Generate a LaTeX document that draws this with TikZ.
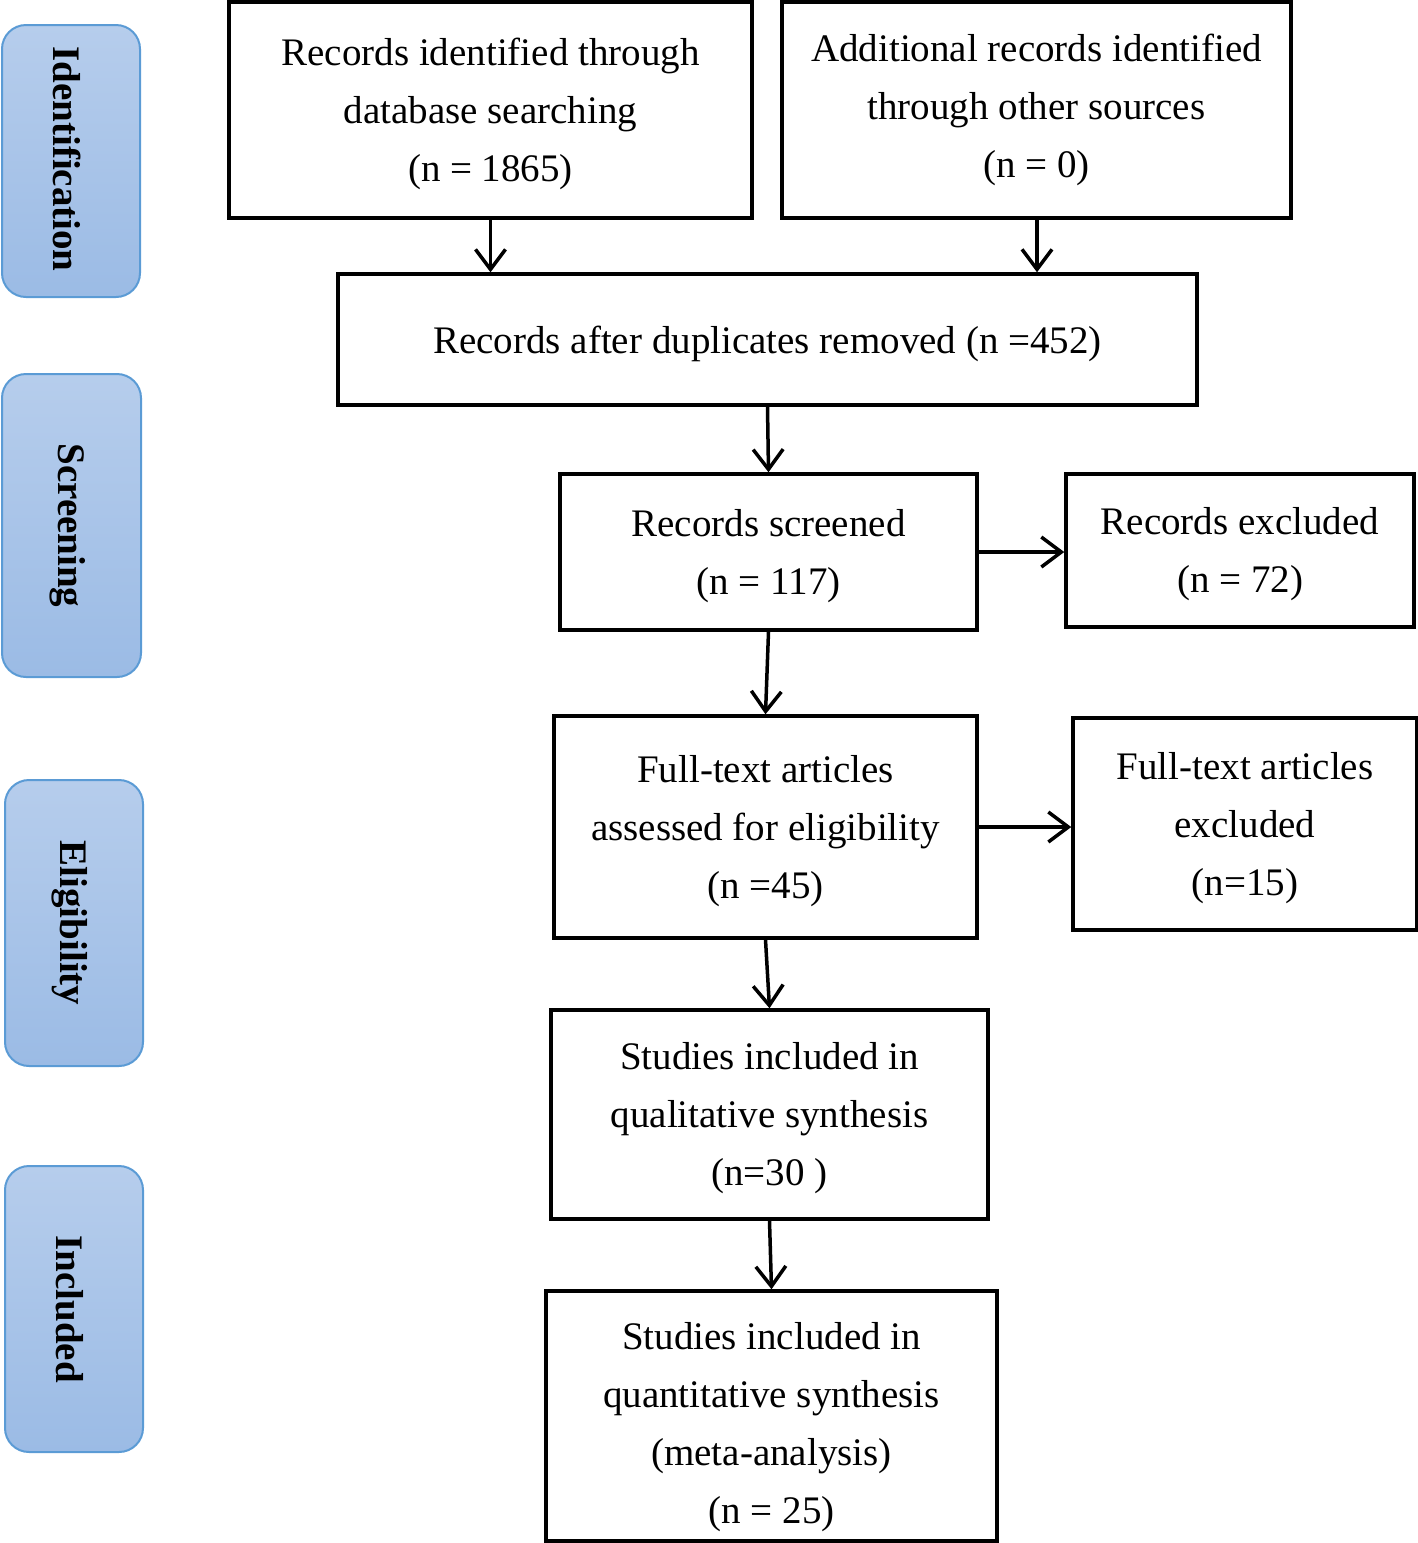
\documentclass[tikz,border=0pt]{standalone}
\usepackage{fontspec}
\setmainfont{Liberation Serif}
\usetikzlibrary{arrows.meta}
\definecolor{sideborder}{HTML}{5B9BD5}
\definecolor{sidetop}{HTML}{B6CDEC}
\definecolor{sidebot}{HTML}{9BBBE5}
\begin{document}
\begin{tikzpicture}[x=1pt,y=-1pt,
 box/.style={draw=black,line width=3.5pt,inner sep=0pt},
 btext/.style={align=center,inner sep=0pt,font=\fontsize{39}{58}\selectfont,yshift=-4pt},
 side/.style={draw=sideborder,line width=2pt,rounded corners=24pt,top color=sidetop,bottom color=sidebot,inner sep=0pt},
 sidetext/.style={rotate=-90,font=\bfseries\fontsize{39}{39}\selectfont,inner sep=0pt},
 arr/.style={line width=3.5pt,-{Straight Barb[length=20pt,width=30pt,line width=3.5pt]}}]
\useasboundingbox (0,0) rectangle (1418,1543);
% side boxes
\node[side,minimum width=138pt,minimum height=272pt] (s1) at (71,161) {};
\node[sidetext] (t1) at ([xshift=-4pt,yshift=2pt]s1) {Identification};
\node[side,minimum width=139pt,minimum height=303pt] (s2) at (71.5,525.5) {};
\node[sidetext] (t2) at ([xshift=-4pt]s2) {Screening};
\node[side,minimum width=138pt,minimum height=286pt] (s3) at (74,923) {};
\node[sidetext] (t3) at ([xshift=-4pt]s3) {Eligibility};
\node[side,minimum width=138pt,minimum height=286pt] (s4) at (74,1309) {};
\node[sidetext] (t4) at ([xshift=-4pt]s4) {Included};
% main boxes
\node[box,minimum width=523pt,minimum height=216pt] (b1) at (490.5,110) {};
\node[btext] (b1t) at (b1) {Records identified through\\database searching\\(n = 1865)};
\node[box,minimum width=509pt,minimum height=216pt] (b2) at (1036.5,110) {};
\node[btext,yshift=4pt] (b2t) at (b2) {Additional records identified\\through other sources\\(n = 0)};
\node[box,minimum width=859pt,minimum height=131pt] (b3) at (767.5,339.5) {};
\node[btext] (b3t) at (b3) {Records after duplicates removed (n =452)};
\node[box,minimum width=417pt,minimum height=156pt] (b4) at (768.5,552) {};
\node[btext] (b4t) at (b4) {Records screened\\(n = 117)};
\node[box,minimum width=348pt,minimum height=153pt] (b5) at (1240,550.5) {};
\node[btext] (b5t) at (b5) {Records excluded\\(n = 72)};
\node[box,minimum width=423pt,minimum height=222pt] (b6) at (765.5,827) {};
\node[btext] (b6t) at (b6) {Full-text articles\\assessed for eligibility\\(n =45)};
\node[box,minimum width=344pt,minimum height=212pt] (b7) at (1245,824) {};
\node[btext] (b7t) at (b7) {Full-text articles\\excluded\\(n=15)};
\node[box,minimum width=437pt,minimum height=209pt] (b8) at (769.5,1114.5) {};
\node[btext] (b8t) at (b8) {Studies included in\\qualitative synthesis\\(n=30 )};
\node[box,minimum width=451pt,minimum height=250pt] (b9) at (771.5,1416) {};
\node[btext,yshift=-7pt] (b9t) at (b9) {Studies included in\\quantitative synthesis\\(meta-analysis)\\(n = 25)};
% arrows
\draw[arr] (b1.south) -- (b1.south |- b3.north);
\draw[arr] (b2.south -| 1037,0) -- (1037,0 |- b3.north);
\draw[arr] (b3.south) -- (b4.north);
\draw[arr] (b4.east) -- (b4.east -| b5.west);
\draw[arr] (b4.south) -- (b6.north);
\draw[arr] (b6.east) -- (b6.east -| b7.west);
\draw[arr] (b6.south) -- (b8.north);
\draw[arr] (b8.south) -- (b9.north);
\end{tikzpicture}
\end{document}
